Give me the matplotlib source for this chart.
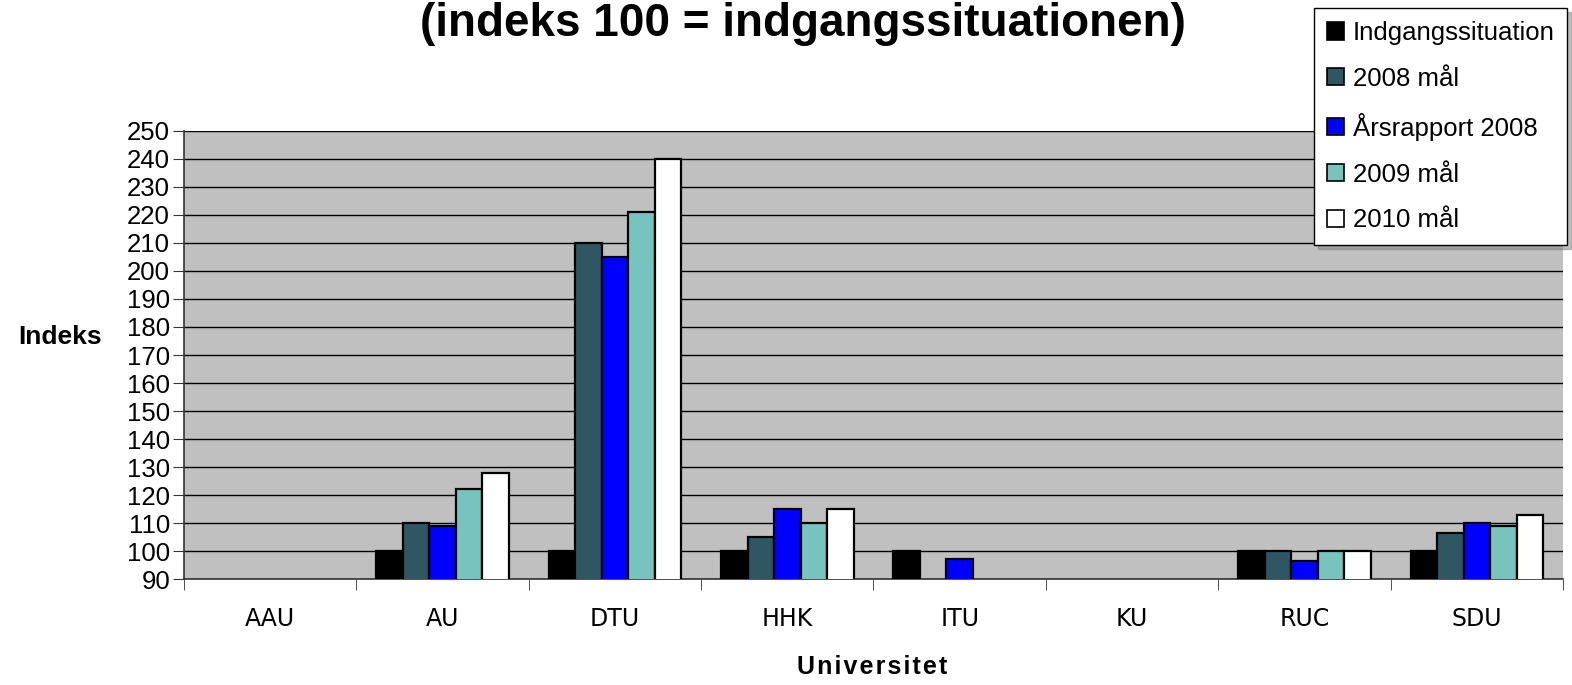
import numpy as np
import matplotlib.pyplot as plt
from matplotlib.patches import Patch

plt.rcParams["font.family"] = ["Liberation Sans", "DejaVu Sans"]

universities = ["AAU", "AU", "DTU", "HHK", "ITU", "KU", "RUC", "SDU"]
series_names = ["Indgangssituation", "2008 mål", "Årsrapport 2008", "2009 mål", "2010 mål"]
nan = np.nan
indgang = [nan, 100, 100, 100, 100, nan, 100, 100]
maal_2008 = [nan, 110, 210, 105, nan, nan, 100, 106.5]
aarsrapport_2008 = [nan, 109, 205, 115, 97, nan, 96.5, 110]
maal_2009 = [nan, 122, 221, 110, nan, nan, 100, 109]
maal_2010 = [nan, 128, 240, 115, nan, nan, 100, 113]
yticks = list(range(90, 251, 10))

colors = ["#000000", "#2E5763", "#0000FF", "#77C4BE", "#FFFFFF"]
series = [indgang, maal_2008, aarsrapport_2008, maal_2009, maal_2010]

fig = plt.figure(figsize=(15.72, 6.85), dpi=100)
ax = fig.add_axes([0.117, 0.1547, 0.8773, 0.6541])
ax.set_facecolor("#C0C0C0")

x = np.arange(len(universities))
w = 1 / 6.5
for i, (vals, c) in enumerate(zip(series, colors)):
    ax.bar(x + (i - 2) * w, vals, width=w, color=c, edgecolor="black",
           linewidth=1.6, zorder=3)

ax.set_ylim(90, 250)
ax.set_xlim(-0.5, 7.5)
ax.set_yticks(yticks)
ax.yaxis.grid(True, color="black", linewidth=1.0, zorder=0)
ax.set_axisbelow(True)
for s in ["top", "right"]:
    ax.spines[s].set_visible(False)
ax.spines["left"].set_color("#333333")
ax.spines["bottom"].set_color("#333333")
ax.spines["left"].set_linewidth(1.2)
ax.spines["bottom"].set_linewidth(1.2)

ax.set_xticks(x)
ax.set_xticklabels(universities, family="DejaVu Sans")
ax.set_xticks(np.arange(-0.5, 8, 1), minor=True)
ax.tick_params(axis="x", which="major", length=0, pad=20, labelsize=17)
ax.tick_params(axis="x", which="minor", length=8, direction="out", color="#333333")
ax.tick_params(axis="y", length=8, labelsize=18.5, pad=2, color="#333333")

fig.text(0.511, 0.965, "(indeks 100 = indgangssituationen)", ha="center", va="center",
         fontsize=33, fontweight="bold")
fig.text(0.038, 0.508, "Indeks", ha="center", va="center", fontsize=19, fontweight="bold")
fig.text(0.555, 0.027, "U\u200an\u200ai\u200av\u200ae\u200ar\u200as\u200ai\u200at\u200ae\u200at",
         ha="center", va="center", fontsize=18, fontweight="bold")

handles = [Patch(facecolor=c, edgecolor="black", linewidth=1.2) for c in colors]
leg = fig.legend(handles, series_names, loc="upper right", bbox_to_anchor=(0.997, 0.988),
                 fontsize=18.5, frameon=True, fancybox=False, edgecolor="black",
                 framealpha=1, borderpad=0.5, labelspacing=0.85, handlelength=0.65,
                 handleheight=0.65, handletextpad=0.35, borderaxespad=0,
                 shadow={"ox": 3, "oy": -3, "color": "#808080"})
leg.get_frame().set_linewidth(1.0)

fig.savefig("out.png", dpi=100)
